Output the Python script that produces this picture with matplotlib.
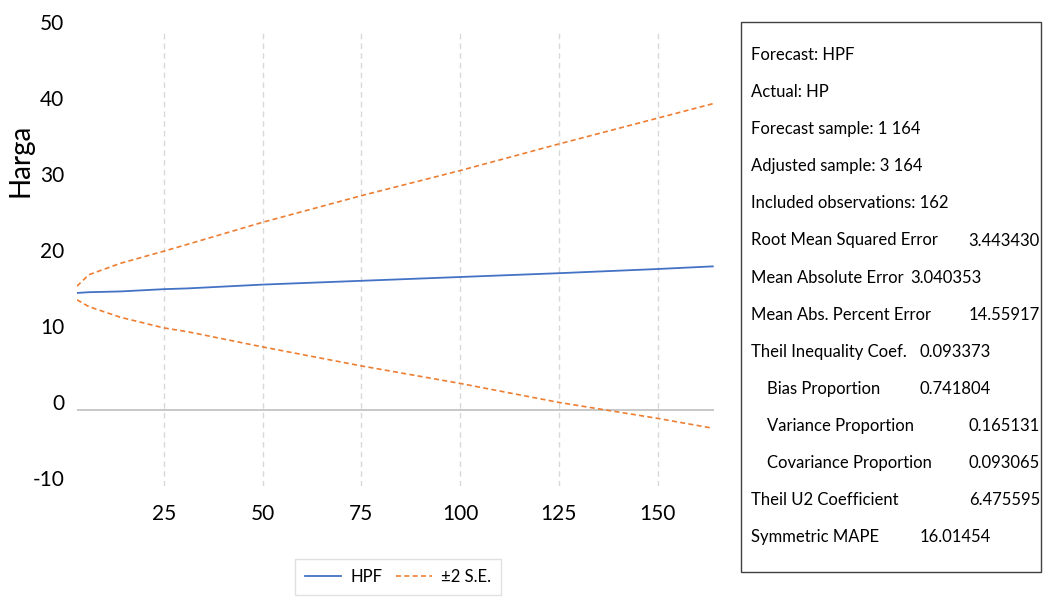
import matplotlib
matplotlib.use("Agg")
import matplotlib.pyplot as plt
from matplotlib.patches import Rectangle

plt.rcParams['font.family'] = ['Lato', 'DejaVu Sans']
plt.rcParams['axes.unicode_minus'] = False

# forecast path and +/- 2 S.E. band
obs = [3, 6, 14, 25, 31, 50, 75, 100, 125, 150, 164]
hpf = [15.4, 15.5, 15.6, 15.9, 16.0, 16.5, 17.0, 17.5, 18.0, 18.55, 18.9]
upper = [16.3, 17.8, 19.3, 20.9, 21.8, 24.7, 28.2, 31.5, 35.0, 38.4, 40.3]
lower = [14.5, 13.6, 12.2, 10.8, 10.3, 8.3, 5.8, 3.5, 1.0, -1.1, -2.4]

x_ticks = [25, 50, 75, 100, 125, 150]
y_ticks = [-10, 0, 10, 20, 30, 40, 50]

# stats panel rows: label, value, label indent (px), value column (px, or "right")
stats = [
    ("Forecast: HPF", "", 0, None),
    ("Actual: HP", "", 0, None),
    ("Forecast sample: 1 164", "", 0, None),
    ("Adjusted sample: 3 164", "", 0, None),
    ("Included observations: 162", "", 0, None),
    ("Root Mean Squared Error", "3.443430", 0, "right"),
    ("Mean Absolute Error", "3.040353", 0, 910),
    ("Mean Abs. Percent Error", "14.55917", 0, "right"),
    ("Theil Inequality Coef.", "0.093373", 0, 920),
    ("Bias Proportion", "0.741804", 16, 920),
    ("Variance Proportion", "0.165131", 16, "right"),
    ("Covariance Proportion", "0.093065", 16, "right"),
    ("Theil U2 Coefficient", "6.475595", 0, "right"),
    ("Symmetric MAPE", "16.01454", 0, 920),
]

W, H = 1049, 600
fig = plt.figure(figsize=(W / 100, H / 100), dpi=100)
ax = fig.add_axes([77 / W, 1 - 486 / H, (714 - 77) / W, (486 - 30) / H])

orange = "#ED7D31"
ax.plot(obs, hpf, color="#4472C4", lw=1.3, label="HPF")
ax.plot(obs, upper, color=orange, lw=1.2, dashes=(3, 2), label="±2 S.E.")
ax.plot(obs, lower, color=orange, lw=1.2, dashes=(3, 2))
ax.axhline(0, color="#bfbfbf", lw=1.2, zorder=1)

ax.set_xlim(3, 164.3)
ax.set_ylim(-10, 50)
ax.set_xticks(x_ticks)
ax.set_yticks(y_ticks)
ax.grid(axis="x", color="#d9d9d9", ls=(0, (4, 3)), lw=1)
for s in ax.spines.values():
    s.set_visible(False)
ax.tick_params(length=0, labelsize=15, colors="black")
ax.tick_params(axis="x", pad=13)
ax.tick_params(axis="y", pad=9)
for lbl in ax.get_yticklabels():
    lbl.set_va("baseline")

fig.text(20 / W, 1 - 160 / H, "Harga", rotation=90, fontsize=20,
         ha="center", va="center")

fig.legend(loc="upper left", bbox_to_anchor=(295 / W, 1 - 559 / H), ncol=2,
           frameon=True, fancybox=False, edgecolor="#d9d9d9", fontsize=12,
           handlelength=2.15, handletextpad=0.55, columnspacing=0.85,
           borderpad=0.6, borderaxespad=0)

# stats box
fig.patches.append(Rectangle((741 / W, 1 - 572 / H), 300 / W, 550 / H,
                             transform=fig.transFigure, fill=False,
                             edgecolor="#404040", lw=1))
for i, (label, val, indent, vx) in enumerate(stats):
    y = 1 - (55 + i * 37.1) / H
    fig.text((751 + indent) / W, y, label, fontsize=12, va="center")
    if val:
        if vx == "right":
            fig.text(1040 / W, y, val, fontsize=12, va="center", ha="right")
        else:
            fig.text(vx / W, y, val, fontsize=12, va="center")

fig.savefig("out.png", dpi=100)
